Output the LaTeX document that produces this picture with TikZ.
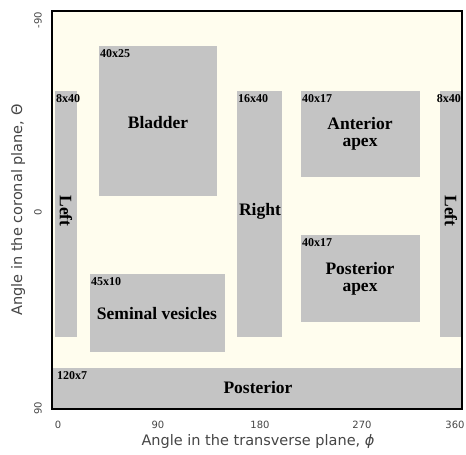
\documentclass[tikz,border=0pt]{standalone}
\usepackage{fontspec}
\setmainfont{Liberation Serif}
\newfontfamily\axfont{DejaVu Sans}
\definecolor{cream}{RGB}{255,253,238}
\definecolor{boxgray}{RGB}{196,196,196}
\definecolor{ticktext}{RGB}{70,70,70}
\tikzset{
  organ/.style={fill=boxgray, draw=none, inner sep=0pt, anchor=north west},
  sizelbl/.style={font=\bfseries\fontsize{12}{12}\selectfont, inner sep=0pt, anchor=north west},
  namelbl/.style={font=\bfseries\fontsize{17.5}{17}\selectfont, align=center, inner sep=0pt},
  tick/.style={font=\axfont\fontsize{10}{10}\selectfont, text=ticktext, inner sep=0pt},
  axtitle/.style={font=\axfont\fontsize{14.5}{15}\selectfont, text=ticktext, inner sep=0pt}
}
\begin{document}
\begin{tikzpicture}[x=1pt,y=-1pt]
\useasboundingbox (0,0) rectangle (466,455);
\fill[white] (0,0) rectangle (466,455);
% plot area
\fill[cream] (52,11) rectangle (462,409);
% boxes
\node[organ, minimum width=22pt, minimum height=246pt] (leftA) at (55,91) {};
\node[organ, minimum width=118pt, minimum height=150pt] (bladder) at (99,46) {};
\node[organ, minimum width=45pt, minimum height=246pt] (right) at (237,91) {};
\node[organ, minimum width=119pt, minimum height=86pt] (antapex) at (301,91) {};
\node[organ, minimum width=22pt, minimum height=246pt] (leftB) at (440,91) {};
\node[organ, minimum width=135pt, minimum height=78pt] (seminal) at (90,274) {};
\node[organ, minimum width=119pt, minimum height=87pt] (postapex) at (301,235) {};
\node[organ, minimum width=410pt, minimum height=41pt] (posterior) at (52,368) {};
% size labels
\node[sizelbl] (sA) at (56,94) {8x40};
\node[sizelbl] (sBl) at (100,49) {40x25};
\node[sizelbl] (sR) at (238,94) {16x40};
\node[sizelbl] (sAA) at (302,94) {40x17};
\node[sizelbl, anchor=north east] (sB) at (461,94) {8x40};
\node[sizelbl] (sSV) at (91,277) {45x10};
\node[sizelbl] (sPA) at (302,238) {40x17};
\node[sizelbl] (sP) at (57,371) {120x7};
% names
\node[namelbl, rotate=-90] (nA) at (66,211) {Left};
\node[namelbl] (nBl) at (158,123) {Bladder};
\node[namelbl] (nR) at (260,211) {Right};
\node[namelbl] (nAA) at (360,134) {Anterior\\apex};
\node[namelbl, rotate=-90] (nB) at (451,211) {Left};
\node[namelbl] (nSV) at (157,314) {Seminal vesicles};
\node[namelbl] (nPA) at (360,279) {Posterior\\apex};
\node[namelbl] (nP) at (258,388) {Posterior};
% frame
\draw[black, line width=2pt] (52,11) rectangle (462,409);
% ticks
\node[tick] (x0) at (58,425) {0};
\node[tick] (x90) at (158,425) {90};
\node[tick] (x180) at (260,425) {180};
\node[tick] (x270) at (362,425) {270};
\node[tick] (x360) at (455,425) {360};
\node[tick, rotate=90] (y1) at (38,20) {-90};
\node[tick, rotate=90] (y2) at (38,212) {0};
\node[tick, rotate=90] (y3) at (38,408) {90};
% axis titles
\node[axtitle] (xt) at (258,441) {Angle in the transverse plane, {\itshape ϕ}};
\node[axtitle, rotate=90] (yt) at (18,210) {Angle in the coronal plane, Θ};
\end{tikzpicture}
\end{document}
